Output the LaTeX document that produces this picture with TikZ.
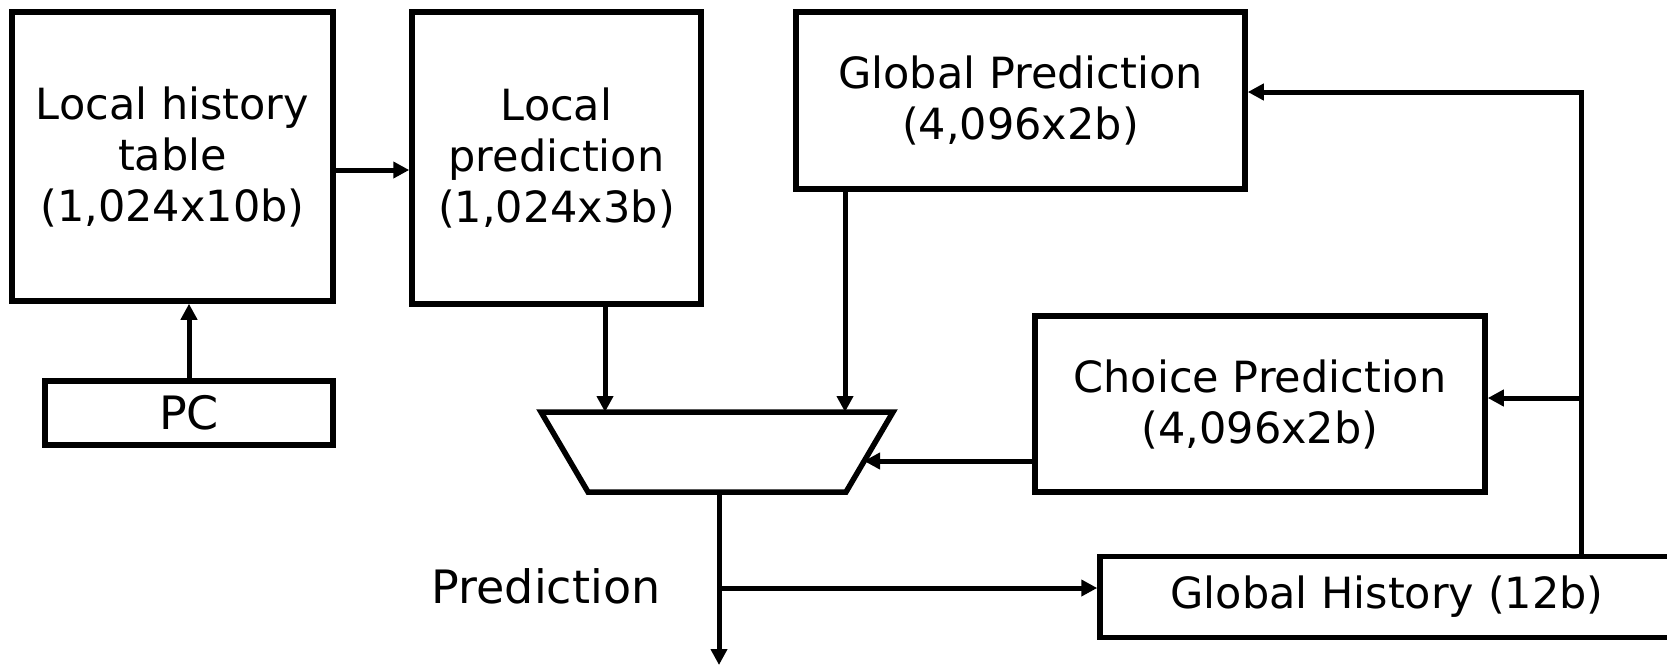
\documentclass[tikz,border=0pt]{standalone}
\usepackage{fontspec}
\setmainfont{DejaVu Sans}
\usetikzlibrary{arrows.meta}
\begin{document}
\begin{tikzpicture}[x=1pt,y=-1pt,
  box/.style={draw, line width=5.5pt, align=center, inner sep=0pt, font=\fontsize{43}{51}\selectfont},
  lbl/.style={inner sep=0pt, font=\fontsize{46}{51}\selectfont},
  arr/.style={line width=5pt, -{Triangle[length=16pt,width=16pt]}},
  wire/.style={line width=5.5pt, line join=miter}]
\useasboundingbox (0,0) rectangle (1667,665);
\node[box, minimum width=321pt, minimum height=289pt] (lht) at (172.5,156.5) {Local history\\table\\(1,024x10b)};
\node[box, minimum width=289pt, minimum height=292pt] (lp) at (556.5,158) {Local\\prediction\\(1,024x3b)};
\node[box, minimum width=449pt, minimum height=177pt] (gp) at (1020.5,100.5) {Global Prediction\\(4,096x2b)};
\node[box, minimum width=450pt, minimum height=176pt] (cp) at (1260,404) {Choice Prediction\\(4,096x2b)};
\node[box, minimum width=574pt, minimum height=81pt] (gh) at (1387,597) {Global History (12b)};
\node[box, minimum width=288pt, minimum height=64pt, font=\fontsize{46}{51}\selectfont] (pc) at (189,413) {PC};
\node[lbl] (plbl) at (546,586) {Prediction};
% mux
\draw[wire] (541,412) coordinate (muxTL) -- (893,412) coordinate (muxTR) -- (846,492) coordinate (muxBR) -- (588,492) coordinate (muxBL) -- cycle;
\coordinate (mA) at (605,412);
\coordinate (mB) at (845,412);
\coordinate (mC) at (864,461);
\coordinate (out) at (719,492);
\coordinate (outEnd) at (719,665);
\coordinate (br) at (719,588);
\coordinate (a1) at (0,170);
\coordinate (fbTop) at (1581,92);
\coordinate (fbMid) at (1581,398);
% connectors
\draw[arr] (pc.north) -- (pc.north |- lht.south);
\draw[arr] (lht.east |- a1) -- (lp.west |- a1);
\draw[arr] (lp.south -| mA) -- (mA);
\draw[arr] (gp.south -| mB) -- (mB);
\draw[arr] (cp.west |- mC) -- (mC);
\draw[arr] (out) -- (outEnd);
\draw[arr] (br) -- (gh.west |- br);
\draw[arr] (gh.north -| fbTop) -- (fbTop) -- (gp.east |- fbTop);
\draw[arr] (fbMid) -- (cp.east |- fbMid);
\end{tikzpicture}
\end{document}
